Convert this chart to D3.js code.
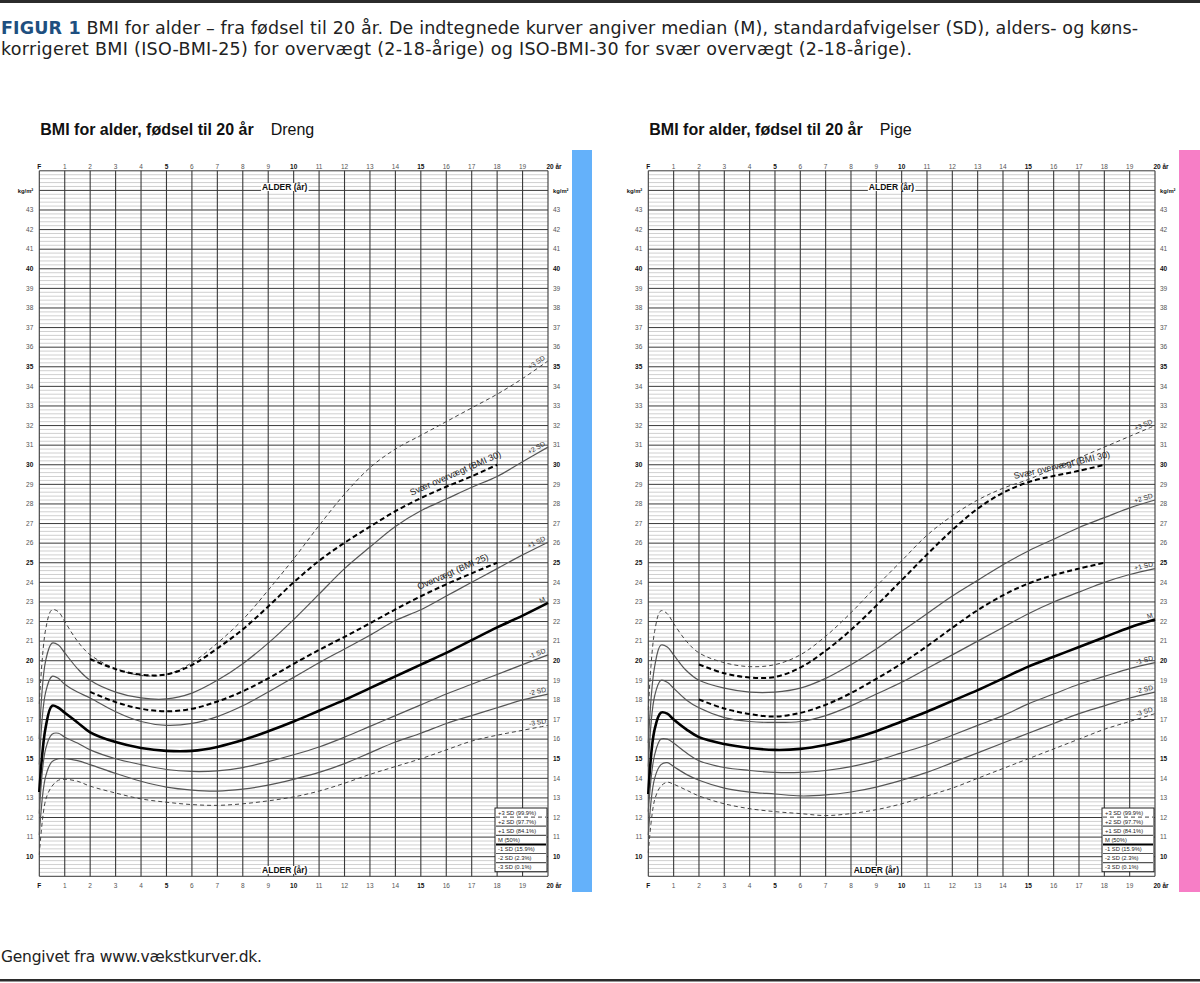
<!DOCTYPE html>
<html>
<head>
<meta charset="utf-8">
<title>BMI for alder</title>
<script src="https://cdn.jsdelivr.net/npm/d3@7/dist/d3.min.js"></script>
<style>
  body { margin: 0; background: #fff; }
  svg { display: block; font-family: "Liberation Sans", Arial, sans-serif; }
</style>
</head>
<body>
<div id="container"></div>
<script>
// ages (years) where the reference curves were read
var ages = [0, 0.25, 0.5, 0.75, 1, 1.5, 2, 3, 4, 5, 6, 7, 8, 9, 10, 11, 12, 13, 14, 15, 16, 17, 18, 19, 20];
var cutAges = [2, 3, 4, 5, 6, 7, 8, 9, 10, 11, 12, 13, 14, 15, 16, 17, 18];

// Dreng
var boyP3 = [17.8, 21.6, 22.6, 22.5, 22.0, 21.0, 20.3, 19.6, 19.25, 19.3, 19.9, 20.9, 22.1, 23.6, 25.2, 26.9, 28.5, 29.85, 30.8, 31.5, 32.2, 32.9, 33.6, 34.4, 35.3];
var boyP2 = [16.0, 20.0, 20.9, 20.8, 20.4, 19.6, 19.0, 18.4, 18.1, 18.05, 18.35, 19.0, 19.85, 20.9, 22.1, 23.4, 24.7, 25.8, 26.85, 27.65, 28.25, 28.85, 29.4, 30.15, 30.9];
var boyP1 = [14.7, 18.4, 19.2, 19.1, 18.8, 18.4, 18.1, 17.4, 16.9, 16.7, 16.8, 17.15, 17.7, 18.4, 19.15, 19.9, 20.6, 21.3, 22.05, 22.6, 23.3, 24.0, 24.7, 25.4, 26.05];
var boyM  = [13.3, 16.6, 17.7, 17.6, 17.35, 16.85, 16.35, 15.85, 15.55, 15.4, 15.4, 15.6, 15.95, 16.4, 16.9, 17.45, 18.0, 18.6, 19.2, 19.8, 20.4, 21.05, 21.7, 22.3, 22.95];
var boyN1 = [12.2, 15.5, 16.25, 16.3, 16.1, 15.8, 15.45, 15.0, 14.7, 14.45, 14.35, 14.38, 14.55, 14.85, 15.2, 15.6, 16.1, 16.65, 17.2, 17.75, 18.3, 18.8, 19.3, 19.8, 20.3];
var boyN2 = [11.1, 14.1, 14.85, 15.0, 15.0, 14.9, 14.7, 14.25, 13.85, 13.55, 13.4, 13.35, 13.45, 13.65, 13.95, 14.3, 14.75, 15.3, 15.85, 16.3, 16.8, 17.2, 17.6, 18.0, 18.3];
var boyN3 = [10.1, 12.9, 13.6, 13.9, 13.95, 13.85, 13.6, 13.25, 12.95, 12.78, 12.66, 12.62, 12.7, 12.85, 13.05, 13.35, 13.75, 14.2, 14.6, 15.0, 15.45, 15.9, 16.2, 16.45, 16.7];
var boyBmi25 = [18.41, 17.89, 17.55, 17.42, 17.55, 17.92, 18.44, 19.10, 19.84, 20.55, 21.22, 21.91, 22.62, 23.29, 23.90, 24.46, 25.0];
var boyBmi30 = [20.09, 19.57, 19.29, 19.30, 19.78, 20.63, 21.60, 22.77, 24.00, 25.10, 26.02, 26.84, 27.63, 28.30, 28.88, 29.41, 30.0];

// Pige
var girlP3 = [17.5, 21.5, 22.55, 22.4, 21.9, 21.0, 20.4, 19.9, 19.7, 19.8, 20.3, 21.25, 22.45, 23.8, 25.1, 26.4, 27.4, 28.2, 28.8, 29.25, 29.8, 30.35, 30.9, 31.45, 32.0];
var girlP2 = [15.8, 19.7, 20.8, 20.7, 20.3, 19.5, 19.0, 18.6, 18.4, 18.4, 18.6, 19.1, 19.8, 20.6, 21.5, 22.4, 23.3, 24.1, 24.9, 25.6, 26.2, 26.8, 27.3, 27.8, 28.2];
var girlP1 = [14.6, 18.2, 19.0, 18.9, 18.6, 18.0, 17.6, 17.1, 16.9, 16.85, 16.9, 17.2, 17.7, 18.3, 18.9, 19.6, 20.3, 21.0, 21.7, 22.4, 23.0, 23.5, 24.0, 24.4, 24.7];
var girlM  = [13.2, 16.5, 17.35, 17.3, 17.0, 16.5, 16.1, 15.75, 15.55, 15.45, 15.5, 15.7, 16.0, 16.4, 16.9, 17.4, 17.95, 18.5, 19.1, 19.7, 20.2, 20.7, 21.2, 21.7, 22.1];
var girlN1 = [12.3, 15.2, 16.0, 16.0, 15.8, 15.3, 14.9, 14.55, 14.4, 14.3, 14.3, 14.4, 14.6, 14.9, 15.3, 15.7, 16.2, 16.7, 17.2, 17.8, 18.3, 18.8, 19.2, 19.6, 19.9];
var girlN2 = [11.1, 14.0, 14.7, 14.8, 14.6, 14.2, 13.9, 13.5, 13.3, 13.2, 13.1, 13.15, 13.3, 13.55, 13.9, 14.3, 14.8, 15.3, 15.8, 16.3, 16.8, 17.3, 17.7, 18.1, 18.4];
var girlN3 = [10.2, 12.9, 13.6, 13.8, 13.7, 13.4, 13.1, 12.7, 12.45, 12.3, 12.2, 12.1, 12.2, 12.4, 12.7, 13.1, 13.5, 14.0, 14.5, 15.0, 15.5, 16.0, 16.5, 16.9, 17.3];
var girlBmi25 = [18.02, 17.56, 17.28, 17.15, 17.34, 17.75, 18.35, 19.07, 19.86, 20.74, 21.68, 22.58, 23.34, 23.94, 24.37, 24.70, 25.0];
var girlBmi30 = [19.81, 19.36, 19.15, 19.17, 19.65, 20.51, 21.57, 22.81, 24.11, 25.42, 26.67, 27.76, 28.57, 29.11, 29.43, 29.69, 30.0];

// axis labels
var ageTicks = ["F", "1", "2", "3", "4", "5", "6", "7", "8", "9", "10", "11", "12", "13", "14", "15", "16", "17", "18", "19", "20 år"];
var bmiTicks = d3.range(10, 44);
var sdLabels = ["+3 SD", "+2 SD", "+1 SD", "M", "-1 SD", "-2 SD", "-3 SD"];
var legendRows = ["+3 SD (99.9%)", "+2 SD (97.7%)", "+1 SD (84.1%)", "M (50%)", "-1 SD (15.9%)", "-2 SD (2.3%)", "-3 SD (0.1%)"];
var sdStyles = ["dash", "thin", "thin", "median", "thin", "thin", "dash"];

var styles = {
  dash:   { stroke: "#444", width: 1, dash: "4,3" },
  thin:   { stroke: "#555", width: 1.2, dash: null },
  median: { stroke: "#000", width: 2.6, dash: null },
  cut:    { stroke: "#000", width: 2, dash: "5,3" }
};

var W = 1200, H = 983;
var svg = d3.select("#container").append("svg")
  .attr("width", W).attr("height", H);

// top and bottom rules
svg.append("rect").attr("x", 0).attr("y", 0).attr("width", W).attr("height", 3).attr("fill", "#2b2b2b");
svg.append("rect").attr("x", 0).attr("y", 979).attr("width", W).attr("height", 2.5).attr("fill", "#2b2b2b");

var capFont = "'DejaVu Sans', Verdana, sans-serif";
var cap = svg.append("text").attr("x", 1).attr("y", 34).attr("font-size", 17.5).attr("fill", "#222")
  .attr("font-family", capFont).attr("textLength", 1137).attr("lengthAdjust", "spacing");
cap.append("tspan").attr("font-weight", "bold").attr("fill", "#1e4f80").text("FIGUR 1");
cap.append("tspan").text(" BMI for alder – fra fødsel til 20 år. De indtegnede kurver angiver median (M), standardafvigelser (SD), alders- og køns-");
svg.append("text").attr("x", 1).attr("y", 55).attr("font-size", 17.5).attr("fill", "#222")
  .attr("font-family", capFont).attr("textLength", 911).attr("lengthAdjust", "spacing")
  .text("korrigeret BMI (ISO-BMI-25) for overvægt (2-18-årige) og ISO-BMI-30 for svær overvægt (2-18-årige).");

svg.append("text").attr("x", 1).attr("y", 962).attr("font-size", 15.5).attr("fill", "#222")
  .attr("font-family", capFont).attr("textLength", 261).attr("lengthAdjust", "spacing")
  .text("Gengivet fra www.vækstkurver.dk.");

var y = d3.scaleLinear().domain([9, 45]).range([876.3, 170.8]);

function drawChart(cfg) {
  var x = d3.scaleLinear().domain([0, 20]).range([cfg.x0, cfg.x1]);
  var g = svg.append("g");

  // title
  var t = g.append("text").attr("x", cfg.x0 + 1).attr("y", 135).attr("font-size", 16).attr("fill", "#111");
  t.append("tspan").attr("font-weight", "bold").text("BMI for alder, fødsel til 20 år");
  t.append("tspan").attr("dx", 17).text(cfg.sex);

  // side colour bar
  g.append("rect").attr("x", cfg.barX).attr("y", 150).attr("width", cfg.barW).attr("height", 742).attr("fill", cfg.barColor);

  // grid
  var minor = d3.range(9, 45.001, 0.2).filter(function(v) { return Math.abs(v - Math.round(v)) > 0.01; });
  g.selectAll(".minor").data(minor).enter().append("line")
    .attr("x1", x(0)).attr("x2", x(20))
    .attr("y1", function(d) { return y(d); }).attr("y2", function(d) { return y(d); })
    .attr("stroke", "#c4c4c4").attr("stroke-width", 0.8);
  g.selectAll(".major").data(d3.range(9, 46)).enter().append("line")
    .attr("x1", x(0)).attr("x2", x(20))
    .attr("y1", function(d) { return y(d); }).attr("y2", function(d) { return y(d); })
    .attr("stroke", "#3a3a3a").attr("stroke-width", 1);
  g.selectAll(".vert").data(d3.range(0, 21)).enter().append("line")
    .attr("x1", function(d) { return x(d); }).attr("x2", function(d) { return x(d); })
    .attr("y1", y(45)).attr("y2", y(9))
    .attr("stroke", "#3a3a3a").attr("stroke-width", 1.1);

  // age labels top and bottom
  [168.5, 888].forEach(function(yy) {
    g.selectAll(null).data(ageTicks).enter().append("text")
      .attr("x", function(d, i) { return x(i) + (i === 20 ? 6 : 0); })
      .attr("y", yy)
      .attr("text-anchor", "middle")
      .attr("font-size", 6.5)
      .attr("font-weight", function(d, i) { return i % 5 === 0 ? "bold" : "normal"; })
      .attr("fill", function(d, i) { return i % 5 === 0 ? "#111" : "#555"; })
      .text(function(d) { return d; });
  });

  // bmi labels both sides
  [[cfg.x0 - 6, "end"], [cfg.x1 + 5, "start"]].forEach(function(s) {
    g.selectAll(null).data(bmiTicks).enter().append("text")
      .attr("x", s[0]).attr("y", function(d) { return y(d) + 2.3; })
      .attr("text-anchor", s[1])
      .attr("font-size", 6.5)
      .attr("font-weight", function(d) { return d % 5 === 0 ? "bold" : "normal"; })
      .attr("fill", function(d) { return d % 5 === 0 ? "#111" : "#555"; })
      .text(function(d) { return d; });
    g.append("text").attr("x", s[0]).attr("y", y(44) + 2.3).attr("text-anchor", s[1])
      .attr("font-size", 5.8).attr("font-weight", "bold").attr("fill", "#111").text("kg/m²");
  });

  // ALDER (år) labels
  cfg.alder.forEach(function(a) {
    var lbl = g.append("text").attr("x", x(a[0])).attr("y", a[1]).attr("text-anchor", "middle")
      .attr("font-size", 8.5).attr("font-weight", "bold").attr("fill", "#111").text("ALDER (år)");
    var bb = lbl.node().getBBox();
    g.insert("rect", function() { return lbl.node(); })
      .attr("x", bb.x - 1).attr("y", bb.y + 1).attr("width", bb.width + 2).attr("height", bb.height - 2).attr("fill", "#fff");
  });

  var line = d3.line()
    .x(function(d) { return x(d[0]); })
    .y(function(d) { return y(d[1]); })
    .curve(d3.curveCatmullRom.alpha(0.5));

  function drawSeries(xs, vals, st) {
    var s = styles[st];
    g.append("path")
      .datum(xs.map(function(a, i) { return [a, vals[i]]; }))
      .attr("d", line)
      .attr("fill", "none")
      .attr("stroke", s.stroke)
      .attr("stroke-width", s.width)
      .attr("stroke-dasharray", s.dash)
      .attr("stroke-linejoin", "round");
  }

  cfg.series.forEach(function(vals, i) { drawSeries(ages, vals, sdStyles[i]); });
  drawSeries(cutAges, cfg.bmi25, "cut");
  drawSeries(cutAges, cfg.bmi30, "cut");

  // SD labels at right end
  cfg.series.forEach(function(vals, i) {
    var n = vals.length;
    var px = x(20) - 1, py = y(vals[n - 1]);
    var ang = Math.atan2(y(vals[n - 1]) - y(vals[n - 2]), x(20) - x(19)) * 180 / Math.PI;
    g.append("text")
      .attr("transform", "translate(" + px + "," + py + ") rotate(" + ang + ")")
      .attr("y", -2.5)
      .attr("text-anchor", "end")
      .attr("font-size", 6.8)
      .attr("fill", "#333")
      .text(sdLabels[i]);
  });

  // cut-off labels along curves
  function curveLabel(vals, age, text) {
    var i = cutAges.indexOf(Math.floor(age));
    var f = age - Math.floor(age);
    var v = vals[i] + (vals[i + 1] - vals[i]) * f;
    var ang = Math.atan2(y(vals[i + 2]) - y(vals[i - 1]), x(cutAges[i + 2]) - x(cutAges[i - 1])) * 180 / Math.PI;
    g.append("text")
      .attr("transform", "translate(" + x(age) + "," + y(v) + ") rotate(" + ang + ")")
      .attr("y", -6)
      .attr("text-anchor", "middle")
      .attr("font-size", 9)
      .attr("fill", "#222")
      .text(text);
  }
  curveLabel(cfg.bmi30, cfg.lab30, "Svær overvægt (BMI 30)");
  curveLabel(cfg.bmi25, cfg.lab25, "Overvægt (BMI 25)");

  // legend box
  var lx = cfg.x1 - 53, ly = 808, rh = 9.1, lw = 52;
  g.append("rect").attr("x", lx).attr("y", ly).attr("width", lw).attr("height", rh * 7)
    .attr("fill", "#fff").attr("stroke", "#222").attr("stroke-width", 1);
  legendRows.forEach(function(r, i) {
    var s = styles[sdStyles[i]];
    g.append("text").attr("x", lx + 3).attr("y", ly + rh * i + 6.8)
      .attr("font-size", 5.8).attr("fill", "#222").text(r);
    if (i < 6) {
      g.append("line").attr("x1", lx + 1).attr("x2", lx + lw - 1)
        .attr("y1", ly + rh * (i + 1)).attr("y2", ly + rh * (i + 1))
        .attr("stroke", s.stroke).attr("stroke-width", Math.min(s.width, 2)).attr("stroke-dasharray", s.dash);
    }
  });
}

drawChart({
  sex: "Dreng", x0: 39.3, x1: 548, barX: 572, barW: 20, barColor: "#64b1fa",
  series: [boyP3, boyP2, boyP1, boyM, boyN1, boyN2, boyN3],
  bmi25: boyBmi25, bmi30: boyBmi30, lab30: 16.5, lab25: 16.4,
  alder: [[9.65, 190], [9.65, 873]]
});
drawChart({
  sex: "Pige", x0: 648.3, x1: 1155, barX: 1179, barW: 21, barColor: "#f77ec6",
  series: [girlP3, girlP2, girlP1, girlM, girlN1, girlN2, girlN3],
  bmi25: girlBmi25, bmi30: girlBmi30, lab30: 16.4, lab25: 17.0,
  alder: [[9.6, 190], [9.0, 873]]
});
</script>
</body>
</html>
